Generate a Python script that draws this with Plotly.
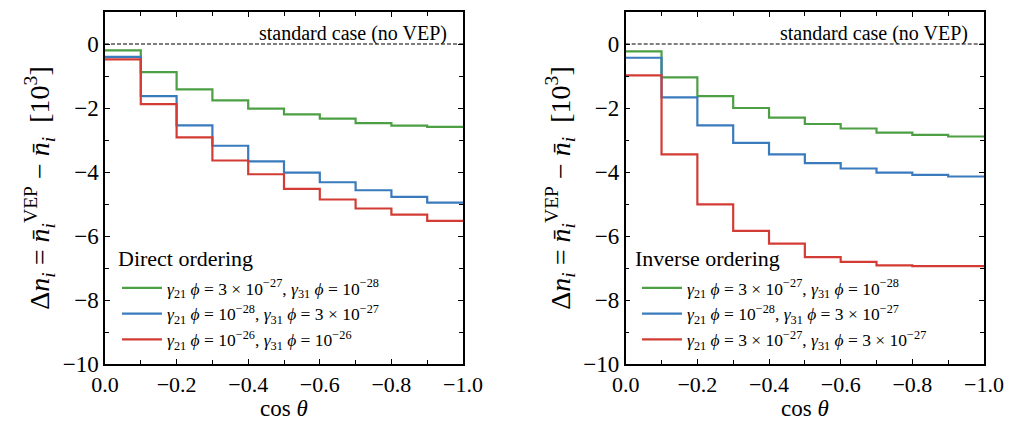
import plotly.graph_objects as go

# ---------------- data ----------------
cos_edges = [0.0, -0.1, -0.2, -0.3, -0.4, -0.5, -0.6, -0.7, -0.8, -0.9, -1.0]

# Direct ordering (values in units of 10^3), one per cos(theta) bin
direct_green = [-0.20, -0.88, -1.42, -1.76, -2.02, -2.20, -2.33, -2.47, -2.55, -2.59]
direct_blue = [-0.40, -1.63, -2.54, -3.18, -3.67, -4.02, -4.32, -4.57, -4.78, -4.96]
direct_red = [-0.48, -1.88, -2.92, -3.64, -4.07, -4.53, -4.86, -5.14, -5.33, -5.53]

# Inverse ordering
inverse_green = [-0.23, -1.04, -1.63, -2.00, -2.30, -2.50, -2.64, -2.77, -2.84, -2.89]
inverse_blue = [-0.43, -1.67, -2.54, -3.09, -3.45, -3.72, -3.89, -4.02, -4.09, -4.14]
inverse_red = [-0.98, -3.45, -5.01, -5.84, -6.24, -6.66, -6.81, -6.92, -6.94, -6.94]

direct_labels = [
    "<i>γ</i><sub>21</sub> <i>ϕ</i> = 3 × 10<sup>−27</sup>, <i>γ</i><sub>31</sub> <i>ϕ</i> = 10<sup>−28</sup>",
    "<i>γ</i><sub>21</sub> <i>ϕ</i> = 10<sup>−28</sup>, <i>γ</i><sub>31</sub> <i>ϕ</i> = 3 × 10<sup>−27</sup>",
    "<i>γ</i><sub>21</sub> <i>ϕ</i> = 10<sup>−26</sup>, <i>γ</i><sub>31</sub> <i>ϕ</i> = 10<sup>−26</sup>",
]
inverse_labels = [
    "<i>γ</i><sub>21</sub> <i>ϕ</i> = 3 × 10<sup>−27</sup>, <i>γ</i><sub>31</sub> <i>ϕ</i> = 10<sup>−28</sup>",
    "<i>γ</i><sub>21</sub> <i>ϕ</i> = 10<sup>−28</sup>, <i>γ</i><sub>31</sub> <i>ϕ</i> = 3 × 10<sup>−27</sup>",
    "<i>γ</i><sub>21</sub> <i>ϕ</i> = 3 × 10<sup>−27</sup>, <i>γ</i><sub>31</sub> <i>ϕ</i> = 3 × 10<sup>−27</sup>",
]
legend_titles = ["Direct ordering", "Inverse ordering"]
colors = ["#4c9f43", "#3a7bbd", "#d33c35"]

y_ticks = [0, -2, -4, -6, -8, -10]
x_ticks = [0.0, -0.2, -0.4, -0.6, -0.8, -1.0]

FONT = "Liberation Serif"

# the page body has an 8px margin: figure is 8px smaller, positions shifted
W, H = 1014, 415

fig = go.Figure()

def add_panel(series, labels, xa, ya, legend):
    # reference line: standard case
    fig.add_trace(go.Scatter(x=[cos_edges[0], cos_edges[-1]], y=[0, 0], mode="lines",
                             line=dict(color="black", width=1, dash="4px,2px"),
                             xaxis=xa, yaxis=ya, showlegend=False, hoverinfo="skip"))
    for vals, lab, col in zip(series, labels, colors):
        fig.add_trace(go.Scatter(x=cos_edges, y=vals + [vals[-1]], mode="lines",
                                 line=dict(color=col, width=2.2, shape="hv"),
                                 name=lab, xaxis=xa, yaxis=ya, legend=legend))

add_panel([direct_green, direct_blue, direct_red], direct_labels, "x", "y", "legend")
add_panel([inverse_green, inverse_blue, inverse_red], inverse_labels, "x2", "y2", "legend2")

ytitle = ("Δ<i>n<sub>i</sub></i> = <i>n̄</i><sub><i>i</i></sub><sup>VEP</sup> − "
          "<i>n̄<sub>i</sub></i>  [10<sup>3</sup>]")

common_x = dict(range=[0, -1], tickvals=x_ticks, ticktext=[f"{v:.1f}".replace("-", "−") for v in x_ticks],
                ticks="inside", ticklen=5, tickwidth=1.2, tickcolor="black",
                minor=dict(dtick=0.1, tick0=0, ticks="inside", ticklen=4, tickwidth=1.2, tickcolor="black"),
                showline=True, linecolor="black", linewidth=1.5, mirror="ticks",
                showgrid=False, zeroline=False, automargin=False,
                tickfont=dict(family=FONT, size=22, color="black"))
common_y = dict(range=[-10, 1], tickvals=y_ticks, ticktext=[str(v).replace("-", "−") for v in y_ticks],
                ticks="inside", ticklen=5, tickwidth=1.2, tickcolor="black",
                minor=dict(dtick=1, tick0=0, ticks="inside", ticklen=4, tickwidth=1.2, tickcolor="black"),
                showline=True, linecolor="black", linewidth=1.5, mirror="ticks",
                showgrid=False, zeroline=False, automargin=False,
                tickfont=dict(family=FONT, size=23, color="black"),
                title=dict(text=ytitle, font=dict(family=FONT, size=28, color="black"), standoff=5))

ydom = [1 - 356 / H, 1 - 4 / H]
fig.update_layout(
    width=W, height=H,
    margin=dict(l=0, r=0, t=0, b=0, autoexpand=False),
    paper_bgcolor="white", plot_bgcolor="white",
    font=dict(family=FONT, color="black"),
    xaxis=dict(domain=[97 / W, 455 / W], anchor="y", **common_x),
    yaxis=dict(domain=ydom, anchor="x", **common_y),
    xaxis2=dict(domain=[617.7 / W, 976 / W], anchor="y2", **common_x),
    yaxis2=dict(domain=ydom, anchor="x2", **common_y),
    legend=dict(x=109 / W, y=1 - 262 / H, xanchor="left", yanchor="top", bgcolor="rgba(0,0,0,0)",
                font=dict(family=FONT, size=17.5), tracegroupgap=0, itemwidth=40),
    legend2=dict(x=629 / W, y=1 - 262 / H, xanchor="left", yanchor="top", bgcolor="rgba(0,0,0,0)",
                 font=dict(family=FONT, size=17.5), tracegroupgap=0, itemwidth=40),
    showlegend=True,
)

for xr, yr in (("x", "y"), ("x2", "y2")):
    fig.add_annotation(x=-0.96, y=0.34, xref=xr, yref=yr, text="standard case (no VEP)",
                       showarrow=False, xanchor="right", yanchor="middle",
                       font=dict(family=FONT, size=20, color="black"))

for xp, t in zip((108 / W, 625 / W), legend_titles):
    fig.add_annotation(x=xp, y=1 - 250 / H, xref="paper", yref="paper", text=t,
                       showarrow=False, xanchor="left", yanchor="middle",
                       font=dict(family=FONT, size=22, color="black"))

# x-axis titles (placed as annotations for exact vertical position)
for xp in ((97 + 455) / 2 / W, (617.7 + 976) / 2 / W):
    fig.add_annotation(x=xp, y=0, xref="paper", yref="paper", text="cos <i>θ</i>",
                       showarrow=False, xanchor="center", yanchor="bottom",
                       font=dict(family=FONT, size=23, color="black"))

fig.write_html("out.html")
